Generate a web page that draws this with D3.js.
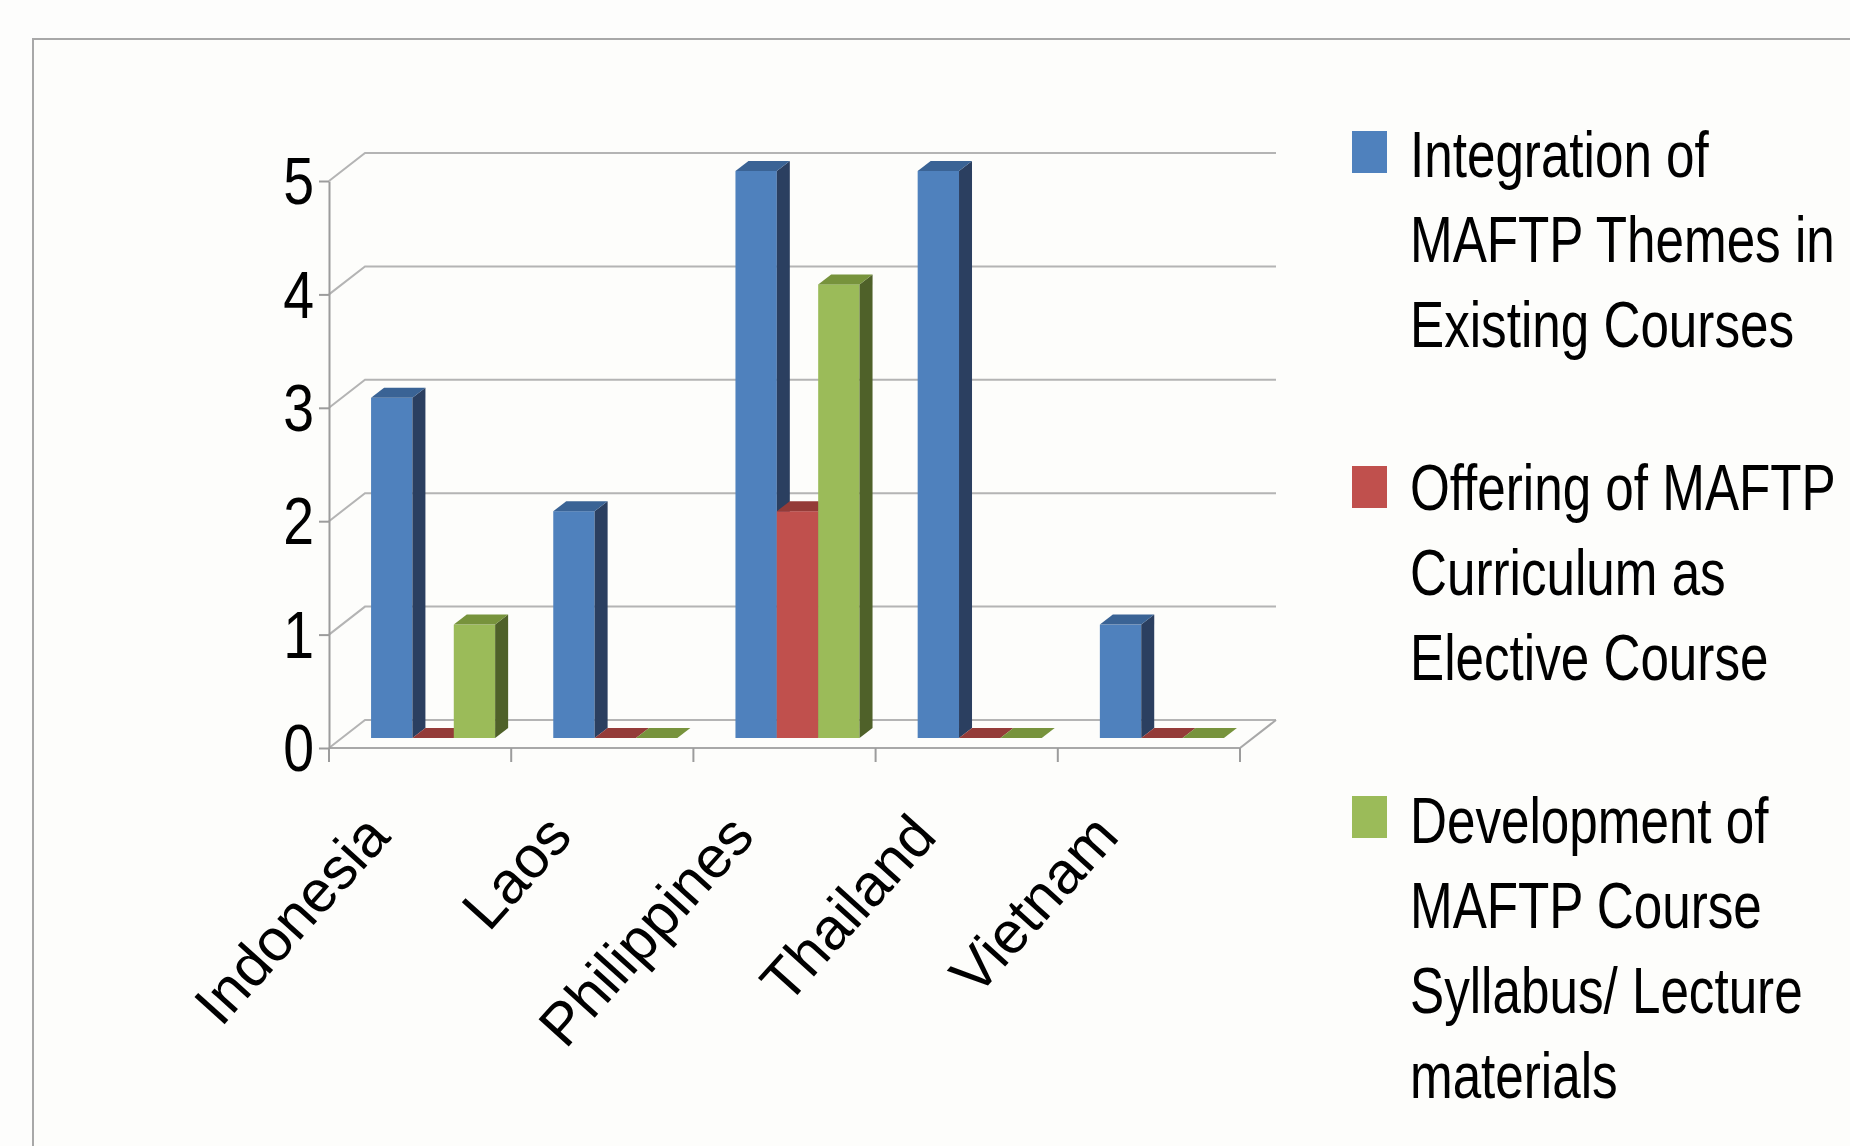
<!DOCTYPE html>
<html>
<head>
<meta charset="utf-8">
<script src="https://cdn.jsdelivr.net/npm/d3@7"></script>
<style>
  body { margin: 0; background: #fdfdfc; overflow: hidden; }
  text { font-family: "Liberation Sans", Arial, sans-serif; fill: #000; }
</style>
</head>
<body>
<div id="chart"></div>
<script>
// data
const countries = ["Indonesia", "Laos", "Philippines", "Thailand", "Vietnam"];
const seriesNames = ["Integration", "Offering", "Development"];
const integration = [3, 2, 5, 5, 1];
const offering = [0, 0, 2, 0, 0];
const development = [1, 0, 4, 0, 0];
const yTicks = [0, 1, 2, 3, 4, 5];
const legendLines = [
  ["Integration of", "MAFTP Themes in", "Existing Courses"],
  ["Offering of MAFTP", "Curriculum as", "Elective Course"],
  ["Development of", "MAFTP Course", "Syllabus/ Lecture", "materials"]
];

const values = [integration, offering, development];
const frontCol = ["#4F81BD", "#C0504D", "#9BBB59"];
const sideCol = ["#2B3F60", "#8A3533", "#4F6129"];
const topCol = ["#3A6395", "#943B38", "#77933C"];

const W = 1850, H = 1146;
const svg = d3.select("#chart").append("svg")
  .attr("width", W).attr("height", H);

// chart frame
svg.append("rect")
  .attr("x", 33).attr("y", 39)
  .attr("width", 1900).attr("height", 1200)
  .attr("fill", "#fdfdfb")
  .attr("stroke", "#a8a8a8").attr("stroke-width", 2);

// scales (front plane)
const x = d3.scaleBand().domain(countries).range([329, 1240]);
const y = d3.scaleLinear().domain([0, 5]).range([748, 181]);
const depth = {dx: 36, dy: -28};   // full depth of the 3d box
const bw = x.bandwidth();
const barW = bw * 0.227;
const inner = d3.scaleBand().domain(seriesNames)
  .range([(bw - 3 * barW) / 2, (bw + 3 * barW) / 2]);
const bOff = {dx: 13, dy: -10};    // bars sit a bit behind the front plane
const bDep = {dx: 13, dy: -10};    // bar depth

const grid = svg.append("g");
// back wall gridlines with left wall diagonals
yTicks.forEach(v => {
  const p = d3.path();
  p.moveTo(329, y(v));
  p.lineTo(329 + depth.dx, y(v) + depth.dy);
  p.lineTo(1240 + depth.dx, y(v) + depth.dy);
  grid.append("path").attr("d", p.toString())
    .attr("fill", "none").attr("stroke", "#b4b4b4").attr("stroke-width", 2);
});
// floor front edge and right edge
const fl = d3.path();
fl.moveTo(329, y(0));
fl.lineTo(1240, y(0));
fl.lineTo(1240 + depth.dx, y(0) + depth.dy);
grid.append("path").attr("d", fl.toString())
  .attr("fill", "none").attr("stroke", "#a8a8a8").attr("stroke-width", 2);

// y axis
const yAxis = svg.append("g")
  .attr("transform", "translate(329,0)")
  .call(d3.axisLeft(y).tickValues(yTicks).tickSize(10).tickSizeOuter(0).tickFormat(d3.format("d")));
yAxis.select(".domain").attr("stroke", "#9c9c9c").attr("stroke-width", 2);
yAxis.selectAll(".tick line").attr("stroke", "#9c9c9c").attr("stroke-width", 2);
yAxis.selectAll(".tick text")
  .attr("x", 0).attr("dy", null)
  .attr("dominant-baseline", "central")
  .attr("font-size", 66)
  .attr("transform", "translate(-15,0) scale(0.84,1)")
  .attr("text-anchor", "end")
  .attr("fill", "#000");

// category ticks on the floor edge
const edges = countries.map(c => x(c)).concat([x(countries[countries.length - 1]) + bw]);
svg.append("g").selectAll("line").data(edges).join("line")
  .attr("x1", d => d).attr("x2", d => d)
  .attr("y1", y(0)).attr("y2", y(0) + 14)
  .attr("stroke", "#9c9c9c").attr("stroke-width", 2);

// bars
const bars = svg.append("g");
countries.forEach((c, ci) => {
  seriesNames.forEach((s, si) => {
    const v = values[si][ci];
    const x0 = x(c) + inner(s) + bOff.dx;
    const x1 = x0 + barW;
    const yb = y(0) + bOff.dy;
    const yt = y(v) + bOff.dy;
    const g = bars.append("g");
    // front
    g.append("rect").attr("x", x0).attr("y", yt)
      .attr("width", barW).attr("height", yb - yt).attr("fill", frontCol[si]);
    // side
    g.append("path").attr("d",
      `M${x1},${yb}L${x1 + bDep.dx},${yb + bDep.dy}L${x1 + bDep.dx},${yt + bDep.dy}L${x1},${yt}Z`)
      .attr("fill", sideCol[si]);
    // top
    g.append("path").attr("d",
      `M${x0},${yt}L${x1},${yt}L${x1 + bDep.dx},${yt + bDep.dy}L${x0 + bDep.dx},${yt + bDep.dy}Z`)
      .attr("fill", topCol[si]);
  });
});

// category labels
svg.append("g").selectAll("text").data(countries).join("text")
  .attr("transform", d => `translate(${x(d) + bw / 2 - 28},838) rotate(-48)`)
  .attr("text-anchor", "end")
  .attr("font-size", 59)
  .text(d => d);

// legend
const swTop = [131, 466, 796];
const firstBase = [177, 510, 843];
const lg = svg.append("g");
legendLines.forEach((lines, i) => {
  lg.append("rect").attr("x", 1352).attr("y", swTop[i])
    .attr("width", 35).attr("height", 42).attr("fill", frontCol[i]);
  lines.forEach((t, j) => {
    lg.append("text")
      .attr("transform", `translate(1410,${firstBase[i] + j * 85}) scale(0.8,1)`)
      .attr("font-size", 64)
      .text(t);
  });
});
</script>
</body>
</html>
